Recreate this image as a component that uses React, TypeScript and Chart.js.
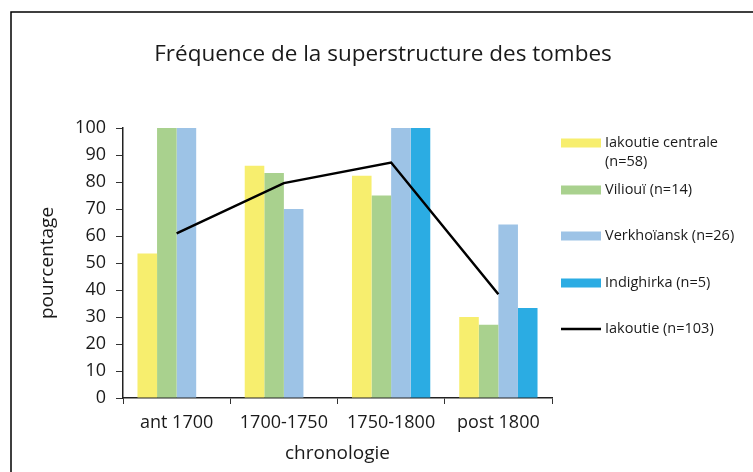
import React, { useEffect, useRef } from "react";
import { Chart, registerables } from "chart.js";

Chart.register(...registerables);

const TITLE = "Fréquence de la superstructure des tombes";
const categories = ["ant 1700", "1700-1750", "1750-1800", "post 1800"];
const yTicks = [0, 10, 20, 30, 40, 50, 60, 70, 80, 90, 100];

const iakoutieCentrale = [53.5, 86, 82.3, 30];
const viliouy = [100, 83.3, 75, 27.1];
const verkhoiansk = [100, 70, 100, 64.3];
const indighirka = [null, null, 100, 33.3];
const iakoutie = [61, 79.6, 87.2, 38.4];

const seriesLabels = [
  ["Iakoutie centrale", "(n=58)"],
  ["Viliouï (n=14)"],
  ["Verkhoïansk (n=26)"],
  ["Indighirka (n=5)"],
  ["Iakoutie (n=103)"],
];
const colors = ["#F7EE6E", "#A9D18E", "#9DC3E6", "#2BACE3", "#000000"];
const FONT = "'Open Sans', sans-serif";

const framePlugin = {
  id: "frameAndExtras",
  beforeDraw(chart: any) {
    const ctx = chart.ctx;
    ctx.save();
    ctx.fillStyle = "#ffffff";
    ctx.fillRect(0, 0, chart.width, chart.height);
    ctx.strokeStyle = "#000";
    ctx.lineWidth = 1.5;
    ctx.beginPath();
    ctx.moveTo(11, chart.height);
    ctx.lineTo(11, 12);
    ctx.lineTo(chart.width, 12);
    ctx.stroke();
    ctx.restore();
  },
  afterDraw(chart: any) {
    const ctx = chart.ctx;
    ctx.save();
    // title
    ctx.fillStyle = "#1a1a1a";
    ctx.font = `22.5px ${FONT}`;
    ctx.textAlign = "center";
    ctx.textBaseline = "middle";
    ctx.fillText(TITLE, 383, 55);
    // legend
    const ys = [143, 190, 236, 283, 329];
    ctx.font = `14.5px ${FONT}`;
    ctx.textAlign = "left";
    chart.data.datasets.forEach((ds: any, i: number) => {
      const y = ys[i];
      if (ds.type === "line") {
        ctx.strokeStyle = ds.borderColor;
        ctx.lineWidth = 2.5;
        ctx.beginPath();
        ctx.moveTo(561, y);
        ctx.lineTo(601, y);
        ctx.stroke();
      } else {
        ctx.fillStyle = ds.backgroundColor;
        ctx.fillRect(561, y - 4.5, 40, 9);
      }
      ctx.fillStyle = "#1a1a1a";
      const lines = seriesLabels[i];
      lines.forEach((t, k) => ctx.fillText(t, 605, y + k * 19));
    });
    ctx.restore();
  },
};

export default function App() {
  const ref = useRef<HTMLCanvasElement | null>(null);
  useEffect(() => {
    if (!ref.current) return;
    const barDs = [iakoutieCentrale, viliouy, verkhoiansk, indighirka].map((d, i) => ({
      type: "bar" as const,
      label: seriesLabels[i].join(" "),
      data: d,
      backgroundColor: colors[i],
      borderWidth: 0,
      order: 1,
      categoryPercentage: 0.73,
      barPercentage: 1,
    }));
    const chart = new Chart(ref.current, {
      type: "bar",
      data: {
        labels: categories,
        datasets: [
          ...barDs,
          {
            type: "line" as const,
            label: seriesLabels[4].join(" "),
            data: iakoutie,
            borderColor: colors[4],
            backgroundColor: colors[4],
            borderWidth: 2.5,
            pointRadius: 0,
            tension: 0,
            order: 0,
          },
        ] as any,
      },
      options: {
        animation: false,
        responsive: false,
        maintainAspectRatio: false,
        layout: { padding: { top: 128, right: 201, left: 0, bottom: 0 } },
        plugins: {
          legend: { display: false },
          title: { display: false },
          tooltip: { enabled: false },
        },
        scales: {
          x: {
            offset: true,
            grid: {
              offset: true,
              drawOnChartArea: false,
              drawTicks: true,
              tickLength: 6,
              color: "#333",
            },
            border: { display: true, color: "#222", width: 1.5 },
            ticks: { color: "#1a1a1a", font: { family: FONT, size: 18 }, padding: 8, maxRotation: 0 },
            title: {
              display: true,
              text: "chronologie",
              color: "#1a1a1a",
              font: { family: FONT, size: 19 },
              padding: { top: 0, bottom: 7 },
            },
            afterFit(scale: any) {
              scale.height = 74;
            },
          },
          y: {
            min: 0,
            max: 100,
            afterBuildTicks(scale: any) {
              scale.ticks = yTicks.map((v) => ({ value: v }));
            },
            grid: {
              drawOnChartArea: false,
              drawTicks: true,
              tickLength: 7,
              color: "#333",
            },
            border: { display: true, color: "#222", width: 1.5 },
            ticks: { color: "#1a1a1a", font: { family: FONT, size: 18 }, padding: 10 },
            title: {
              display: true,
              text: "pourcentage",
              color: "#1a1a1a",
              font: { family: FONT, size: 19 },
              padding: { top: 36, bottom: 0 },
            },
            afterFit(scale: any) {
              scale.width = 123;
            },
          },
        },
      },
      plugins: [framePlugin],
    });
    return () => chart.destroy();
  }, []);
  return (
    <div style={{ position: "fixed", left: 0, top: 0, width: 753, height: 472, background: "#fff" }}>
      <canvas ref={ref} width={753} height={472} style={{ display: "block", width: 753, height: 472 }} />
    </div>
  );
}
